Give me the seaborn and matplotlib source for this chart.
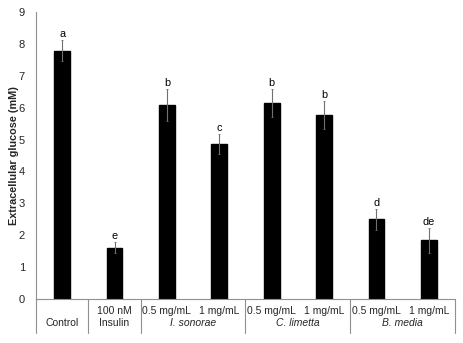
import matplotlib
matplotlib.use("Agg")
import matplotlib.pyplot as plt
import seaborn as sns
import pandas as pd
from matplotlib.lines import Line2D
import matplotlib.transforms as mtransforms

categories = ["Control", "Insulin", "IS 0.5", "IS 1", "CL 0.5", "CL 1", "BM 0.5", "BM 1"]
values = [7.78, 1.61, 6.08, 4.85, 6.15, 5.77, 2.50, 1.84]
errors = [0.33, 0.18, 0.50, 0.31, 0.45, 0.45, 0.33, 0.40]
letters = ["a", "e", "b", "c", "b", "b", "d", "de"]
row1_labels = ["", "100 nM", "0.5 mg/mL", "1 mg/mL", "0.5 mg/mL", "1 mg/mL", "0.5 mg/mL", "1 mg/mL"]
groups = ["Control", "Insulin", "I. sonorae", "C. limetta", "B. media"]
group_spans = [(0, 0), (1, 1), (2, 3), (4, 5), (6, 7)]
group_italic = [False, False, True, True, True]
yticks = list(range(0, 10))

sns.set_style("white")
plt.rcParams['font.family'] = ['Liberation Sans', 'DejaVu Sans']

df = pd.DataFrame({"cat": categories, "val": values})

fig = plt.figure(figsize=(4.64, 3.43), dpi=100)
ax = fig.add_axes([36/464, 1-299/343, (455-36)/464, (299-12)/343])

sns.barplot(data=df, x="cat", y="val", color="black", width=0.3, ax=ax,
            errorbar=None, saturation=1, edgecolor="black")
xs = list(range(len(categories)))
ax.errorbar(xs, values, yerr=errors, fmt="none", ecolor="#707070", elinewidth=0.8,
            capsize=1.0, capthick=0.6)
for x, v, e, l in zip(xs, values, errors, letters):
    ax.text(x, v + e + 0.03, l, ha="center", va="bottom", fontsize=7.8, color="black")

ax.set_xlim(-0.5, 7.5)
ax.set_ylim(0, 9)
ax.set_yticks(yticks)
ax.set_yticklabels([str(t) for t in yticks], fontsize=8)
ax.tick_params(axis="y", length=0, pad=8)
ax.set_xticks([])
ax.set_xticks([i + 0.5 for i in range(len(categories) - 1)], minor=True)
ax.tick_params(axis="x", which="minor", direction="in", length=2.5, color="#909090", width=0.6)
ax.set_xlabel("")
ax.set_ylabel("Extracellular glucose (mM)", fontsize=7.8, fontweight="bold")
ax.yaxis.set_label_coords(-17/419, 0.5)

for side in ["top", "right"]:
    ax.spines[side].set_visible(False)
for side in ["left", "bottom"]:
    ax.spines[side].set_color("#909090")
    ax.spines[side].set_linewidth(0.8)

trans = mtransforms.blended_transform_factory(ax.transData, ax.transAxes)
y_row1 = -12/287
y_row2 = -24/287
y_sep = -34/287
for x, lab in zip(xs, row1_labels):
    if lab:
        ax.text(x, y_row1, lab, transform=trans, ha="center", va="center", fontsize=7.5)
for g, (a, b), it in zip(groups, group_spans, group_italic):
    ax.text((a + b) / 2, y_row2, g, transform=trans, ha="center", va="center",
            fontsize=7.5, style="italic" if it else "normal")
seps = [-0.5] + [b + 0.5 for (a, b) in group_spans]
for s in seps:
    ax.add_line(Line2D([s, s], [0, y_sep], transform=trans, color="#909090",
                       linewidth=0.8, clip_on=False))

fig.savefig("out.png", dpi=100)
